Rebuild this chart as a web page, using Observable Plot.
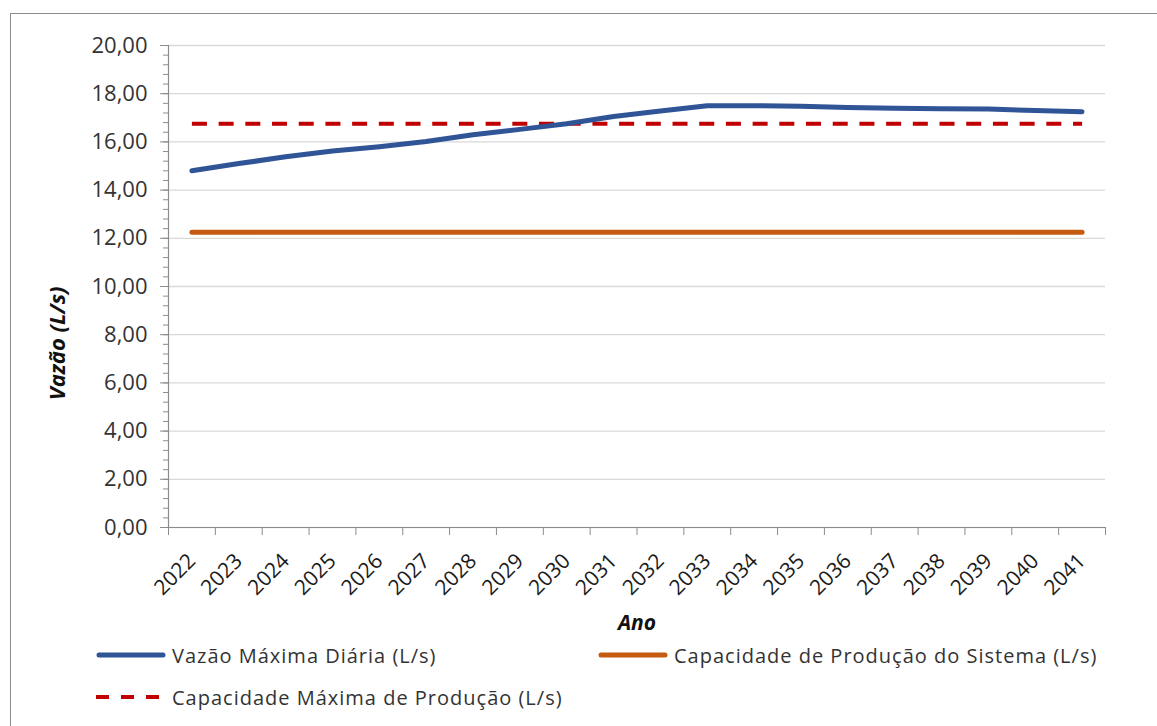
<!DOCTYPE html>
<html><head><meta charset="utf-8">
<script src="https://cdn.jsdelivr.net/npm/d3@7"></script>
<script src="https://cdn.jsdelivr.net/npm/@observablehq/plot@0.6"></script>
<style>
body{margin:0;background:#fff;font-family:"Open Sans",sans-serif;}
#wrap{position:relative;width:1157px;height:726px;overflow:hidden;background:#fff;}
#frame{position:absolute;left:10px;top:13px;width:1300px;height:900px;border-left:1px solid #8c8c8c;border-top:1px solid #8c8c8c;}
#chart{position:absolute;left:0;top:0;}
.leg{position:absolute;display:flex;align-items:center;font-size:20px;letter-spacing:1px;color:#333;white-space:nowrap;}
.leg svg{margin-right:4px;}
</style></head><body>
<div id="wrap"><div id="frame"></div><div id="chart"></div><div id="legend"></div></div>
<script>
const years = [2022,2023,2024,2025,2026,2027,2028,2029,2030,2031,2032,2033,2034,2035,2036,2037,2038,2039,2040,2041];
const vazaoMaximaDiaria = [14.80,15.10,15.38,15.62,15.80,16.02,16.30,16.52,16.75,17.05,17.28,17.50,17.50,17.48,17.43,17.40,17.38,17.36,17.30,17.25];
const capacidadeSistema = [12.25,12.25,12.25,12.25,12.25,12.25,12.25,12.25,12.25,12.25,12.25,12.25,12.25,12.25,12.25,12.25,12.25,12.25,12.25,12.25];
const capacidadeMaxima = [16.75,16.75,16.75,16.75,16.75,16.75,16.75,16.75,16.75,16.75,16.75,16.75,16.75,16.75,16.75,16.75,16.75,16.75,16.75,16.75];
const yMajorTicks = [0,2,4,6,8,10,12,14,16,18,20];
const seriesNames = ["Vazão Máxima Diária (L/s)","Capacidade de Produção do Sistema (L/s)","Capacidade Máxima de Produção (L/s)"];
const seriesColors = ["#2F5597","#C55A11","#C00000"];
const xTitle = "Ano";
const yTitle = "Vazão (L/s)";

const yMinorTicks = d3.range(0, 20.0001, 0.4);
const boundaries = years.map(y => y - 0.5).concat([years[years.length-1] + 0.5]);
const fmt = d => d.toFixed(2).replace(".", ",");
const rows = (vals) => years.map((y, i) => ({ano: y, v: vals[i]}));
const axisGrey = "#8c8c8c";

const chart = Plot.plot({
  width: 1157,
  height: 640,
  marginLeft: 168,
  marginRight: 52,
  marginTop: 45,
  marginBottom: 113,
  style: {fontFamily: "'Open Sans', sans-serif", background: "transparent", overflow: "visible"},
  x: {type: "linear", domain: [boundaries[0], boundaries[boundaries.length-1]], axis: null},
  y: {domain: [0, 20], axis: null},
  marks: [
    Plot.gridY(yMajorTicks, {stroke: "#d9d9d9", strokeOpacity: 1, strokeWidth: 1.3}),
    Plot.ruleY([0], {stroke: axisGrey, strokeWidth: 1.2}),
    Plot.ruleX([boundaries[0]], {stroke: axisGrey, strokeWidth: 1.2}),
    Plot.axisY(yMinorTicks, {tickSize: 5, tickFormat: () => "", stroke: axisGrey, label: null}),
    Plot.axisY(yMajorTicks, {tickSize: 8, tickPadding: 13, tickFormat: fmt, stroke: axisGrey, fill: "#333", fontSize: 22, label: null}),
    Plot.axisX(boundaries, {tickSize: 8, tickFormat: () => "", stroke: axisGrey, label: null}),
    Plot.axisX(years, {tickSize: 0, tickPadding: 30, dx: 0, tickRotate: -45, tickFormat: d => String(d), fill: "#1a1a1a", fontSize: 21, label: null}),
    Plot.line(rows(capacidadeSistema), {x: "ano", y: "v", stroke: seriesColors[1], strokeWidth: 5, strokeLinecap: "round"}),
    Plot.line(rows(capacidadeMaxima), {x: "ano", y: "v", stroke: seriesColors[2], strokeWidth: 4, strokeDasharray: "15,11.7", strokeLinecap: "butt"}),
    Plot.line(rows(vazaoMaximaDiaria), {x: "ano", y: "v", stroke: seriesColors[0], strokeWidth: 5, strokeLinecap: "round", strokeLinejoin: "round"}),
    Plot.text([xTitle], {frameAnchor: "bottom", dy: 102, fontWeight: "bold", fontStyle: "italic", fontSize: 21, fill: "#111"}),
    Plot.text([yTitle], {frameAnchor: "left", dx: -111, rotate: -90, textAnchor: "end", fontWeight: "bold", fontStyle: "italic", fontSize: 22, fill: "#111"})
  ]
});
document.getElementById("chart").appendChild(chart);

const legendPos = [[96, 655], [598, 655], [96, 697]];
const leg = document.getElementById("legend");
seriesNames.forEach((name, i) => {
  const div = document.createElement("div");
  div.className = "leg";
  div.style.left = legendPos[i][0] + "px";
  div.style.top = (legendPos[i][1] - 14) + "px";
  div.style.height = "28px";
  const dash = i === 2 ? 'stroke-dasharray="13,12" stroke-width="4"' : 'stroke-width="5" stroke-linecap="round"';
  const x1 = i === 2 ? 0 : 3, x2 = i === 2 ? 70 : 67;
  div.innerHTML = `<svg width="72" height="10"><line x1="${x1}" x2="${x2}" y1="5" y2="5" stroke="${seriesColors[i]}" ${dash}/></svg><span>${name}</span>`;
  leg.appendChild(div);
});
</script>
</body></html>
